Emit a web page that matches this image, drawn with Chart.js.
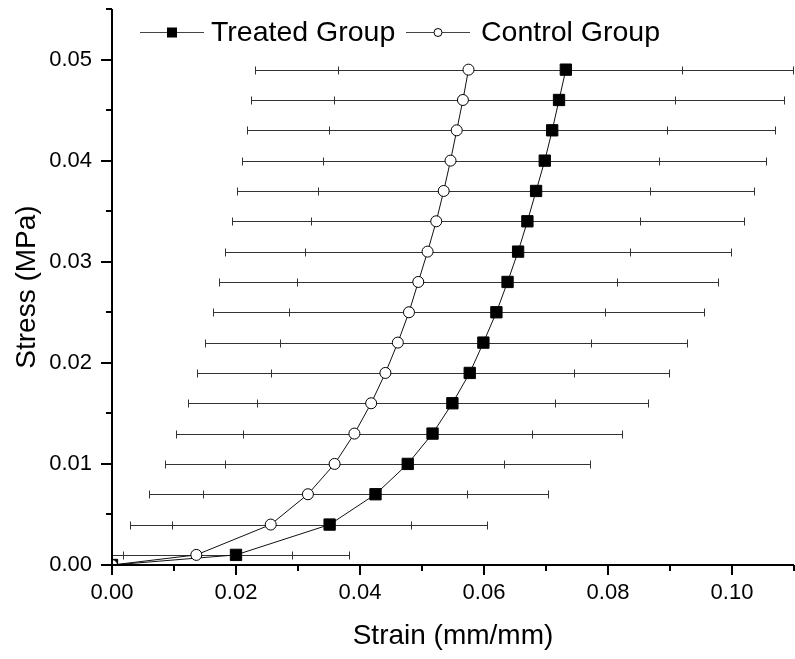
<!DOCTYPE html>
<html>
<head>
<meta charset="utf-8">
<title>Stress vs Strain</title>
<script src="https://cdn.jsdelivr.net/npm/chart.js@4.4.1/dist/chart.umd.min.js"></script>
<style>
  html, body { margin: 0; padding: 0; background: #fff; overflow: hidden; }
  .chart-box { width: 795px; height: 659px; overflow: hidden; }
  #stressChart { display: block; width: 803px; height: 659px; }
</style>
</head>
<body>
<div class="chart-box"><canvas id="stressChart" width="803" height="659"></canvas></div>
<script>
// stress levels (MPa), first point is the origin
const stress = [0, 0.001, 0.004, 0.007, 0.010, 0.013, 0.016, 0.019, 0.022, 0.025,
  0.028, 0.031, 0.034, 0.037, 0.040, 0.043, 0.046, 0.049];

const treatedStrain = [0, 0.0200, 0.0351, 0.0425, 0.0477, 0.0517, 0.0549, 0.0577, 0.0599,
  0.0620, 0.0638, 0.0655, 0.0670, 0.0684, 0.0698, 0.0710, 0.0721, 0.0732];
const treatedErr = [null, 0.0183, 0.0254, 0.0279, 0.0294, 0.0305, 0.0315, 0.0321, 0.0328,
  0.0335, 0.0339, 0.0344, 0.0349, 0.0352, 0.0357, 0.0360, 0.0363, 0.0367];

const controlStrain = [0, 0.0136, 0.0256, 0.0316, 0.0359, 0.0391, 0.0418, 0.0441, 0.0461,
  0.0479, 0.0494, 0.0509, 0.0523, 0.0535, 0.0546, 0.0556, 0.0566, 0.0575];
const controlErr = [null, 0.0154, 0.0227, 0.0256, 0.0274, 0.0287, 0.0296, 0.0304, 0.0311,
  0.0316, 0.0321, 0.0326, 0.0329, 0.0333, 0.0336, 0.0339, 0.0342, 0.0344];

const xTicks = [0, 0.02, 0.04, 0.06, 0.08, 0.10];
const yTicks = [0, 0.01, 0.02, 0.03, 0.04, 0.05];

const FONT = '"Liberation Sans", Arial, Helvetica, sans-serif';
Chart.defaults.font.family = FONT;
Chart.defaults.color = '#000';

const toPoints = (xs) => stress.map((y, i) => ({ x: xs[i], y }));

// keep the plot box where the fixed layout puts it
const noEdgePadding = (scale) => {
  scale.paddingTop = 0;
  scale.paddingBottom = 0;
  scale.paddingLeft = 0;
  scale.paddingRight = 0;
};

// horizontal error bars, drawn under the lines and markers
const errorBars = {
  id: 'errorBars',
  beforeDatasetsDraw(chart) {
    const { ctx, chartArea: area, scales: { x, y } } = chart;
    ctx.save();
    ctx.beginPath();
    ctx.rect(area.left, area.top, area.right - area.left, area.bottom - area.top);
    ctx.clip();
    ctx.strokeStyle = '#333';
    ctx.lineWidth = 1;
    chart.data.datasets.forEach((ds) => {
      ds.data.forEach((pt, i) => {
        const err = ds.errors[i];
        if (err == null) return;
        const py = Math.round(y.getPixelForValue(pt.y)) + 0.5;
        const x1 = Math.round(x.getPixelForValue(pt.x - err)) + 0.5;
        const x2 = Math.round(x.getPixelForValue(pt.x + err)) + 0.5;
        ctx.beginPath();
        ctx.moveTo(x1, py); ctx.lineTo(x2, py);
        ctx.moveTo(x1, py - 4); ctx.lineTo(x1, py + 4);
        ctx.moveTo(x2, py - 4); ctx.lineTo(x2, py + 4);
        ctx.stroke();
      });
    });
    ctx.restore();
  }
};

// axis lines with outward major and minor ticks
const axesFrame = {
  id: 'axesFrame',
  afterDraw(chart) {
    const { ctx, chartArea: area, scales: { x, y } } = chart;
    ctx.save();
    ctx.strokeStyle = '#000';
    ctx.lineWidth = 2;
    ctx.beginPath();
    ctx.moveTo(area.left, area.top);
    ctx.lineTo(area.left, area.bottom + 1);
    ctx.moveTo(area.left - 1, area.bottom);
    ctx.lineTo(area.right, area.bottom);
    ctx.stroke();

    ctx.beginPath();
    for (let i = 0; i <= 11; i++) {
      const px = Math.round(x.getPixelForValue(i * 0.01));
      const len = i % 2 === 0 ? 10 : 6;
      ctx.moveTo(px, area.bottom); ctx.lineTo(px, area.bottom + len);
    }
    for (let i = 0; i <= 11; i++) {
      const py = Math.round(y.getPixelForValue(i * 0.005));
      const len = i % 2 === 0 ? 11 : 6;
      ctx.moveTo(area.left, py); ctx.lineTo(area.left - len, py);
    }
    ctx.stroke();
    ctx.restore();
  }
};

// legend inside the plot: line + marker + label
const lineLegend = {
  id: 'lineLegend',
  afterDraw(chart) {
    const { ctx } = chart;
    const yc = 32;
    ctx.save();
    ctx.strokeStyle = '#444';
    ctx.lineWidth = 1;
    ctx.beginPath();
    ctx.moveTo(140, yc + 0.5); ctx.lineTo(204, yc + 0.5);
    ctx.moveTo(406, yc + 0.5); ctx.lineTo(470, yc + 0.5);
    ctx.stroke();

    ctx.fillStyle = '#000';
    ctx.fillRect(167, yc - 4.5, 10, 10);

    ctx.beginPath();
    ctx.arc(438, yc + 0.5, 4, 0, Math.PI * 2);
    ctx.fillStyle = '#fff';
    ctx.fill();
    ctx.strokeStyle = '#000';
    ctx.stroke();

    ctx.fillStyle = '#000';
    ctx.font = '28.5px ' + FONT;
    ctx.textBaseline = 'middle';
    ctx.textAlign = 'left';
    ctx.fillText(chart.data.datasets[0].label, 211, yc + 1);
    ctx.fillText(chart.data.datasets[1].label, 481, yc + 1);
    ctx.restore();
  }
};

new Chart(document.getElementById('stressChart'), {
  type: 'scatter',
  data: {
    datasets: [
      {
        label: 'Treated Group',
        data: toPoints(treatedStrain),
        errors: treatedErr,
        showLine: true,
        order: 1,
        clip: 0,
        borderColor: '#111',
        borderWidth: 1,
        pointStyle: 'rect',
        pointRadius: 8,
        pointBackgroundColor: '#000',
        pointBorderColor: '#000',
        pointBorderWidth: 1
      },
      {
        label: 'Control Group',
        data: toPoints(controlStrain),
        errors: controlErr,
        showLine: true,
        order: 0,
        clip: 0,
        borderColor: '#111',
        borderWidth: 1,
        pointStyle: 'circle',
        pointRadius: 5.5,
        pointBackgroundColor: '#fff',
        pointBorderColor: '#000',
        pointBorderWidth: 1
      }
    ]
  },
  options: {
    responsive: false,
    animation: false,
    devicePixelRatio: 1,
    layout: { padding: { top: 9, right: 0, bottom: 0, left: 0 } },
    plugins: { legend: { display: false }, tooltip: { enabled: false } },
    scales: {
      x: {
        type: 'linear',
        min: 0,
        max: 0.11,
        grid: { display: false, drawTicks: false },
        border: { display: false },
        afterBuildTicks: (scale) => { scale.ticks = xTicks.map((value) => ({ value })); },
        afterFit: (scale) => { scale.height = 94; noEdgePadding(scale); },
        ticks: {
          padding: 15,
          font: { size: 22 },
          color: '#000',
          maxRotation: 0,
          callback: (v) => Number(v).toFixed(2)
        },
        title: {
          display: true,
          text: 'Strain (mm/mm)',
          font: { size: 28 },
          color: '#000',
          padding: { top: 0, bottom: 6 }
        }
      },
      y: {
        type: 'linear',
        min: 0,
        max: 0.055,
        grid: { display: false, drawTicks: false },
        border: { display: false },
        afterBuildTicks: (scale) => { scale.ticks = yTicks.map((value) => ({ value })); },
        afterFit: (scale) => { scale.width = 112; noEdgePadding(scale); },
        ticks: {
          padding: 20,
          font: { size: 22 },
          color: '#000',
          callback: (v) => Number(v).toFixed(2)
        },
        title: {
          display: true,
          text: 'Stress (MPa)',
          font: { size: 28 },
          color: '#000',
          padding: { top: 10, bottom: 0 }
        }
      }
    }
  },
  plugins: [errorBars, axesFrame, lineLegend]
});
</script>
</body>
</html>
